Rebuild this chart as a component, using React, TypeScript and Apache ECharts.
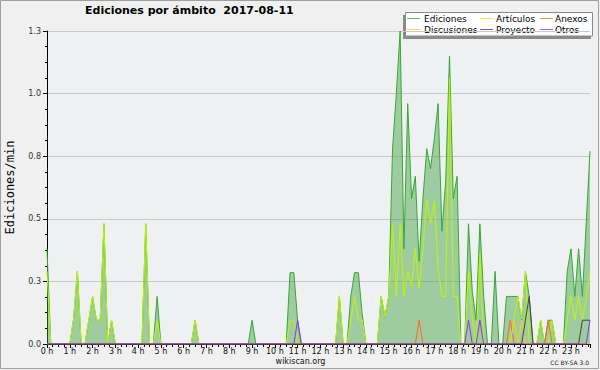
import React, { useEffect, useRef } from "react";
import * as echarts from "echarts";

const TITLE = "Ediciones por ámbito\u00a0\u00a02017-08-11";
const Y_AXIS_NAME = "Ediciones/min";
const SITE = "wikiscan.org";
const LICENSE = "CC BY-SA 3.0";

// one point every 10 minutes, 00:00 .. 23:50
const STEP_MINUTES = 10;

const SERIES_NAMES = ["Ediciones", "Artículos", "Anexos", "Discusiones", "Proyecto", "Otros"];
const SERIES_COLORS = ["#36a836", "#c0f500", "#ff6a1a", "#ffc828", "#444444", "#8a34ee"];

const ediciones = [
  0.38, 0, 0, 0, 0, 0, 0, 0.1, 0.29, 0, 0, 0.095,
  0.19, 0.095, 0.095, 0.48, 0, 0.095, 0, 0, 0, 0, 0, 0,
  0, 0, 0.48, 0, 0, 0.19, 0, 0, 0, 0, 0, 0,
  0, 0, 0, 0.095, 0, 0, 0, 0, 0, 0, 0, 0,
  0, 0, 0, 0, 0, 0, 0.095, 0, 0, 0, 0, 0,
  0, 0, 0, 0, 0.285, 0.285, 0.095, 0, 0, 0, 0, 0,
  0, 0, 0, 0, 0, 0.19, 0, 0, 0.19, 0.285, 0.285, 0.12,
  0, 0, 0, 0, 0.19, 0.11, 0.19, 0.78, 1.0, 1.25, 0.38, 0.96,
  0.58, 0.67, 0.33, 0.58, 0.78, 0.7, 0.82, 0.96, 0.45, 0.65, 1.15, 0.58,
  0.67, 0, 0, 0.48, 0.21, 0.095, 0.48, 0.19, 0, 0, 0.29, 0,
  0, 0.19, 0.19, 0.19, 0.19, 0.095, 0.29, 0.19, 0, 0, 0.095, 0,
  0.095, 0.095, 0, 0, 0, 0.29, 0.38, 0.19, 0.38, 0.19, 0.48, 0.77,
];

const articulos = [
  0.29, 0, 0, 0, 0, 0, 0, 0.1, 0.29, 0, 0, 0.095,
  0.19, 0.095, 0.095, 0.48, 0, 0.095, 0, 0, 0, 0, 0, 0,
  0, 0, 0.48, 0, 0, 0.095, 0, 0, 0, 0, 0, 0,
  0, 0, 0, 0.095, 0, 0, 0, 0, 0, 0, 0, 0,
  0, 0, 0, 0, 0, 0, 0, 0, 0, 0, 0, 0,
  0, 0, 0, 0, 0.095, 0.095, 0, 0, 0, 0, 0, 0,
  0, 0, 0, 0, 0, 0.19, 0, 0, 0.095, 0.19, 0.095, 0.095,
  0, 0, 0, 0, 0.19, 0.11, 0.19, 0.48, 0.19, 0.48, 0.19, 0.29,
  0.23, 0.38, 0.22, 0.38, 0.575, 0.48, 0.57, 0.3, 0.19, 0.19, 1.06, 0.19,
  0.19, 0, 0, 0.29, 0.1, 0, 0.36, 0, 0, 0, 0, 0,
  0, 0, 0, 0.1, 0.19, 0.1, 0.29, 0, 0, 0, 0.095, 0,
  0, 0.095, 0, 0, 0, 0.1, 0.19, 0.095, 0.19, 0.095, 0.19, 0.29,
];

const anexos = [
  0, 0, 0, 0, 0, 0, 0, 0, 0, 0, 0, 0,
  0, 0, 0, 0, 0, 0, 0, 0, 0, 0, 0, 0,
  0, 0, 0, 0, 0, 0, 0, 0, 0, 0, 0, 0,
  0, 0, 0, 0, 0, 0, 0, 0, 0, 0, 0, 0,
  0, 0, 0, 0, 0, 0, 0, 0, 0, 0, 0, 0,
  0, 0, 0, 0, 0, 0, 0, 0, 0, 0, 0, 0,
  0, 0, 0, 0, 0, 0, 0, 0, 0, 0, 0, 0,
  0, 0, 0, 0, 0, 0, 0, 0, 0, 0, 0, 0,
  0, 0, 0.095, 0, 0, 0, 0, 0, 0, 0, 0, 0,
  0, 0, 0, 0, 0, 0, 0, 0, 0, 0, 0, 0,
  0, 0, 0.095, 0, 0, 0, 0, 0, 0, 0, 0, 0,
  0.095, 0, 0, 0, 0, 0, 0, 0, 0, 0, 0, 0,
];

const discusiones = [
  0, 0, 0, 0, 0, 0, 0, 0, 0, 0, 0, 0,
  0, 0, 0, 0, 0, 0, 0, 0, 0, 0, 0, 0,
  0, 0, 0, 0, 0, 0, 0, 0, 0, 0, 0, 0,
  0, 0, 0, 0, 0, 0, 0, 0, 0, 0, 0, 0,
  0, 0, 0, 0, 0, 0, 0, 0, 0, 0, 0, 0,
  0, 0, 0, 0, 0, 0, 0, 0, 0, 0, 0, 0,
  0, 0, 0, 0, 0, 0, 0, 0, 0, 0, 0, 0,
  0, 0, 0, 0, 0, 0, 0, 0, 0, 0, 0, 0,
  0, 0, 0, 0, 0, 0, 0, 0, 0, 0, 0, 0,
  0, 0, 0, 0, 0, 0, 0, 0, 0, 0, 0, 0,
  0, 0, 0, 0.095, 0, 0.095, 0, 0, 0, 0, 0, 0,
  0, 0, 0, 0, 0, 0, 0, 0, 0, 0, 0, 0,
];

const proyecto = [
  0, 0, 0, 0, 0, 0, 0, 0, 0, 0, 0, 0,
  0, 0, 0, 0, 0, 0, 0, 0, 0, 0, 0, 0,
  0, 0, 0, 0, 0, 0, 0, 0, 0, 0, 0, 0,
  0, 0, 0, 0, 0, 0, 0, 0, 0, 0, 0, 0,
  0, 0, 0, 0, 0, 0, 0, 0, 0, 0, 0, 0,
  0, 0, 0, 0, 0, 0, 0, 0, 0, 0, 0, 0,
  0, 0, 0, 0, 0, 0, 0, 0, 0, 0, 0, 0,
  0, 0, 0, 0, 0, 0, 0, 0, 0, 0, 0, 0,
  0, 0, 0, 0, 0, 0, 0, 0, 0, 0, 0, 0,
  0, 0, 0, 0, 0, 0, 0, 0, 0, 0, 0, 0,
  0, 0, 0, 0, 0, 0, 0.095, 0.19, 0, 0, 0, 0,
  0, 0, 0, 0, 0, 0, 0, 0, 0, 0.095, 0.095, 0.095,
];

const otros = [
  0, 0, 0, 0, 0, 0, 0, 0, 0, 0, 0, 0,
  0, 0, 0, 0, 0, 0, 0, 0, 0, 0, 0, 0,
  0, 0, 0, 0, 0, 0, 0, 0, 0, 0, 0, 0,
  0, 0, 0, 0, 0, 0, 0, 0, 0, 0, 0, 0,
  0, 0, 0, 0, 0, 0, 0, 0, 0, 0, 0, 0,
  0, 0, 0, 0, 0, 0, 0.095, 0, 0, 0, 0, 0,
  0, 0, 0, 0, 0, 0, 0, 0, 0, 0, 0, 0,
  0, 0, 0, 0, 0, 0, 0, 0, 0, 0, 0, 0,
  0, 0, 0, 0, 0, 0, 0, 0, 0, 0, 0, 0,
  0, 0, 0, 0.095, 0, 0, 0.095, 0, 0, 0, 0, 0,
  0, 0, 0, 0, 0, 0, 0, 0, 0, 0, 0, 0,
  0, 0, 0, 0, 0, 0, 0, 0, 0, 0, 0, 0.095,
];

const SERIES_VALUES = [ediciones, articulos, anexos, discusiones, proyecto, otros];

export default function App() {
  const ref = useRef<HTMLDivElement>(null);

  useEffect(() => {
    const chart = echarts.init(ref.current as HTMLDivElement, null, { renderer: "svg" });

    const series = SERIES_VALUES.map((vals, k) => ({
      name: SERIES_NAMES[k],
      type: "line",
      data: vals.map((v, i) => [i * STEP_MINUTES, v]),
      symbol: "none",
      showSymbol: false,
      silent: true,
      lineStyle: { color: SERIES_COLORS[k], width: 1 },
      itemStyle: { color: SERIES_COLORS[k] },
      areaStyle: k === 0 ? { color: "rgba(60,160,60,0.45)", opacity: 1 } : undefined,
      z: 2 + k,
    }));

    const legendLineX = [407, 480, 540];
    const legendTextX = [424, 496, 555];
    const legendRowY = [18.5, 29.5];
    const legendChildren: any[] = [
      { type: "rect", shape: { x: 403, y: 15, width: 188, height: 24 }, style: { fill: "#8a8a8a" } },
      {
        type: "rect",
        shape: { x: 405.5, y: 12.5, width: 187, height: 23.5 },
        style: { fill: "#ffffff", stroke: "#8a8a8a", lineWidth: 1 },
      },
    ];
    SERIES_NAMES.forEach((name, k) => {
      const c = k % 3;
      const r = Math.floor(k / 3);
      legendChildren.push({
        type: "line",
        shape: { x1: legendLineX[c], y1: legendRowY[r], x2: legendLineX[c] + 13, y2: legendRowY[r] },
        style: { stroke: SERIES_COLORS[k], lineWidth: 1, opacity: 0.8 },
      });
      legendChildren.push({
        type: "text",
        x: legendTextX[c],
        y: legendRowY[r],
        style: {
          text: name,
          fill: "#000",
          font: '9px "DejaVu Sans"',
          align: "left",
          verticalAlign: "middle",
          textAlign: "left",
          textVerticalAlign: "middle",
        },
      });
    });

    chart.setOption({
      animation: false,
      backgroundColor: "#f0f0f0",
      title: {
        text: TITLE,
        left: 85,
        top: 5,
        padding: 0,
        textStyle: { fontFamily: "DejaVu Sans", fontSize: 11, fontWeight: "bold", color: "#000" },
      },
      grid: {
        left: 47,
        top: 31,
        width: 543,
        height: 313,
        show: true,
        backgroundColor: "#eef0f2",
        borderWidth: 0,
        containLabel: false,
        outerBoundsMode: "none",
      },
      xAxis: {
        type: "value",
        min: 0,
        max: 143 * STEP_MINUTES,
        interval: 60,
        z: 5,
        axisLine: { show: true, onZero: false, lineStyle: { color: "#000", width: 1 } },
        axisTick: { show: true, length: 4, lineStyle: { color: "#000" } },
        minorTick: { show: true, splitNumber: 4, length: 3, lineStyle: { color: "#000" } },
        splitLine: { show: false },
        axisLabel: {
          margin: 3,
          fontFamily: "DejaVu Sans",
          fontSize: 8,
          color: "#111",
          showMaxLabel: false,
          formatter: (v: number) => (v % 60 === 0 ? `${v / 60} h` : ""),
        },
      },
      yAxis: {
        type: "value",
        min: 0,
        max: 1.25,
        interval: 0.25,
        name: Y_AXIS_NAME,
        nameLocation: "middle",
        nameRotate: 90,
        nameGap: 31,
        nameTextStyle: { fontFamily: "DejaVu Sans Mono", fontSize: 12, color: "#000" },
        axisLine: { show: true, lineStyle: { color: "#000", width: 1 } },
        axisTick: { show: true, length: 4, lineStyle: { color: "#000" } },
        minorTick: { show: true, splitNumber: 4, length: 2, lineStyle: { color: "#000" } },
        splitLine: { show: true, lineStyle: { color: "#c8c8c8", width: 1 } },
        axisLabel: {
          margin: 6,
          fontFamily: "DejaVu Sans",
          fontSize: 8,
          color: "#333",
          formatter: (v: number) => v.toFixed(1),
        },
      },
      series,
      graphic: [
        {
          type: "rect",
          silent: true,
          shape: { x: 0.5, y: 0.5, width: 598, height: 368 },
          style: { fill: "none", stroke: "#a0a0a0", lineWidth: 1 },
          z: 100,
        },
        { type: "group", z: 100, children: legendChildren },
        {
          type: "text",
          x: 300.5,
          y: 361,
          z: 100,
          style: {
            text: SITE,
            fill: "#111",
            font: '8px "DejaVu Sans"',
            align: "center",
            verticalAlign: "middle",
            textAlign: "center",
            textVerticalAlign: "middle",
          },
        },
        {
          type: "text",
          x: 589,
          y: 362,
          z: 100,
          style: {
            text: LICENSE,
            fill: "#222",
            font: '6px "DejaVu Sans"',
            align: "right",
            verticalAlign: "middle",
            textAlign: "right",
            textVerticalAlign: "middle",
          },
        },
      ],
    });

    return () => {
      chart.dispose();
    };
  }, []);

  return <div ref={ref} style={{ position: "fixed", left: 0, top: 0, width: 600, height: 370 }} />;
}
